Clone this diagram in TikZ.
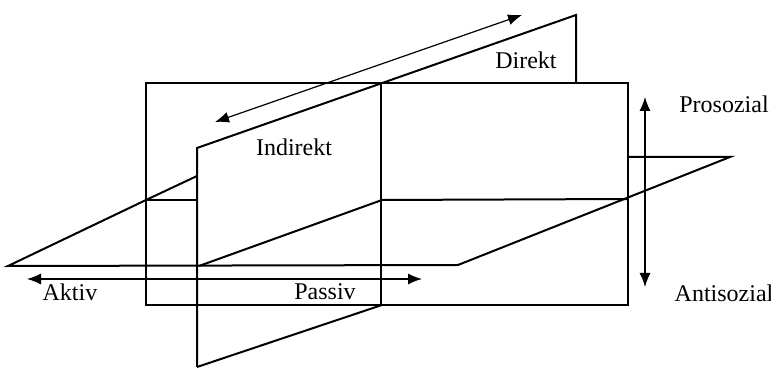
\documentclass[tikz,border=0pt]{standalone}
\usepackage{fontspec}
\setmainfont{Liberation Serif}
\usetikzlibrary{arrows.meta}

\begin{document}
\begin{tikzpicture}[x=0.5pt, y=-0.5pt, every node/.style={font=\fontsize{12}{14}\selectfont, inner sep=0pt}]
        \tikzstyle{plane} = [line width=1pt, line join=miter]
        \tikzstyle{axis} = [<->, >={Latex[length=7pt, width=5.5pt]}, line width=0.6pt]
        \useasboundingbox (0,0) rectangle (771,368);
        % vertical plane
        \draw[plane] (146,83) rectangle (628,305);
        % depth plane (direkt / indirekt)
        \draw[plane] (197,367) -- (197,148) -- (576,15) -- (576,83);
        \draw[plane] (197,367) -- (382,305);
        \draw[plane] (381,83) -- (381,305);
        % horizontal plane
        \draw[plane] (197,176) -- (146,200) -- (8,266) -- (458,265) -- (730,157) -- (628,157);
        \draw[plane] (146,200) -- (197,200);
        \draw[plane] (199,266) -- (382,200) -- (628,199);
        % labels
        \node (direkt) at (526,60) {Direkt};
        \node (indirekt) at (294,147) {Indirekt};
        \node (pro) at (724,104) {Prosozial};
        \node (anti) at (724,293) {Antisozial};
        \node (aktiv) at (70,292) {Aktiv};
        \node (passiv) at (325,292) {Passiv};
        % axis ends
        \coordinate (dirA) at (215,122);
        \coordinate (dirB) at (522,15);
        \coordinate (proA) at (645,97);
        \coordinate (proB) at (645,287);
        \coordinate (aktA) at (27,279);
        \coordinate (aktB) at (422,279);
        \draw[axis] (dirA) -- (dirB);
        \draw[axis] (proA) -- (proB);
        \draw[axis] (aktA) -- (aktB);
      \end{tikzpicture}
\end{document}
